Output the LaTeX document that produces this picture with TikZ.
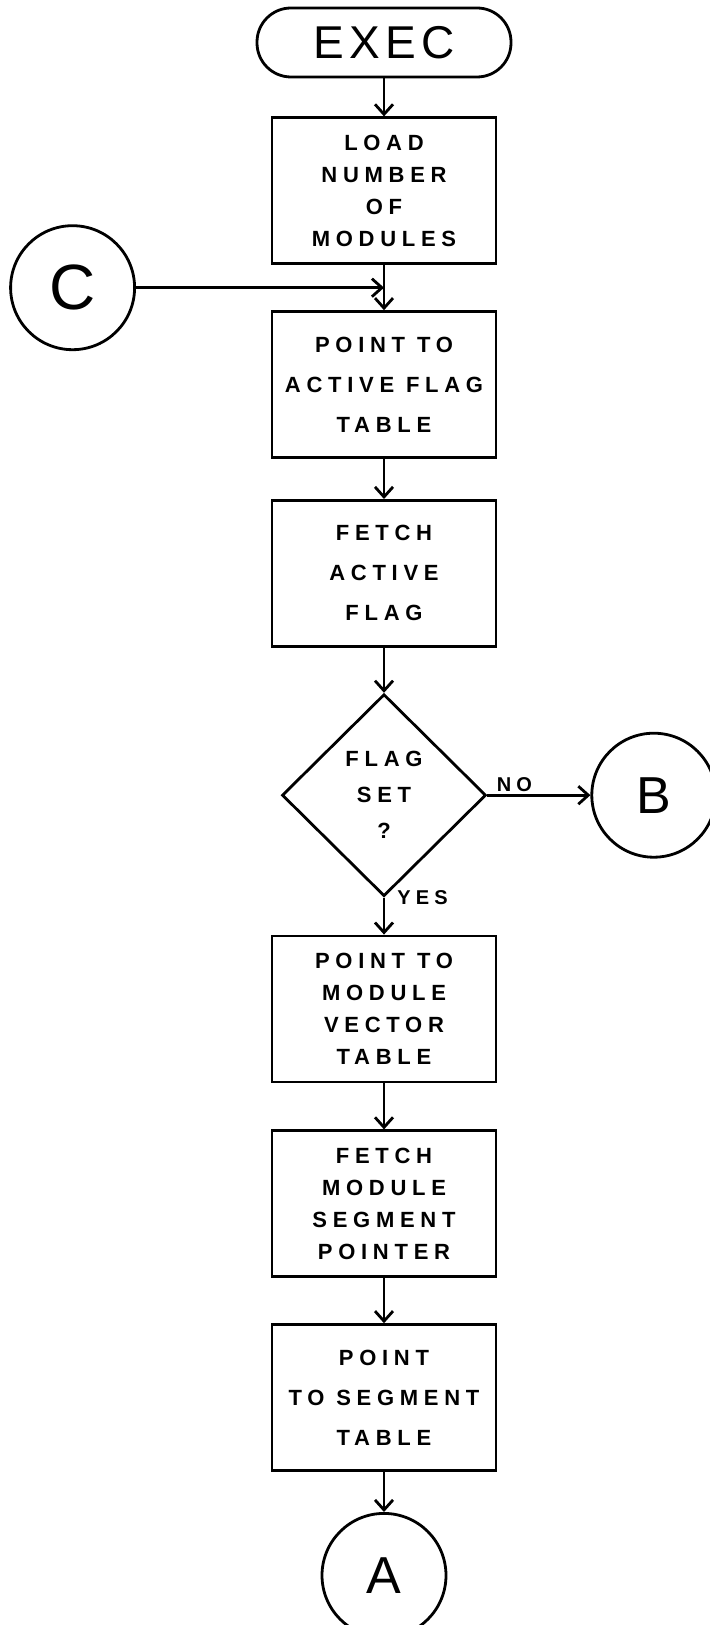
\documentclass[tikz,border=0pt]{standalone}
\usepackage{fontspec}
\setmainfont{Liberation Sans}
\newfontfamily\handfont{Liberation Sans}[LetterSpace=26]
\newfontfamily\execfont{Liberation Sans}[LetterSpace=12]
\newfontfamily\letterfont{Liberation Sans}
\usetikzlibrary{positioning,shapes.geometric,arrows.meta,calc}

\begin{document}
\begin{tikzpicture}[
        line width=1.4pt,
        every node/.style={
            draw,
            align=center,
            inner sep=2pt,
            font=\handfont\bfseries\fontsize{11}{16}\selectfont
        },
        terminal/.style={
            rounded corners=17pt,
            minimum width=127pt,
            minimum height=34.5pt,
            font=\execfont\fontsize{23}{26}\selectfont
        },
        stepbox/.style={
            rectangle,
            minimum width=112pt,
            minimum height=73pt
        },
        spread/.style={font=\handfont\bfseries\fontsize{11}{20}\selectfont},
        decision/.style={
            diamond,
            aspect=1,
            inner sep=0pt,
            minimum width=102pt,
            minimum height=101pt,
            font=\handfont\bfseries\fontsize{11}{18}\selectfont
        },
        connector/.style={
            circle,
            inner sep=0pt,
            minimum size=62pt,
            font=\letterfont\fontsize{26}{26}\selectfont
        },
        flow/.style={-{Straight Barb[length=5pt,width=9pt]}},
        tag/.style={
            draw=none,
            inner sep=1pt,
            font=\handfont\bfseries\fontsize{10}{10}\selectfont
        }
    ]
    \useasboundingbox (0,0) rectangle (354.5pt,-812.5pt);
    \node[terminal] (exec) at (192pt,-21.25pt) {EXEC};
    \node[stepbox, below=19pt of exec] (load) {LOAD\\NUMBER\\OF\\MODULES};
    \node[stepbox, spread, below=22.5pt of load] (flagtab) {POINT TO\\ACTIVE FLAG\\TABLE};
    \node[stepbox, spread, below=20pt of flagtab] (fetchflag) {FETCH\\ACTIVE\\FLAG};
    \node[decision, below=22.5pt of fetchflag] (flagset) {FLAG\\SET\\?};
    \node[stepbox, below=18.5pt of flagset] (vectab) {POINT TO\\MODULE\\VECTOR\\TABLE};
    \node[stepbox, below=23pt of vectab] (fetchseg) {FETCH\\MODULE\\SEGMENT\\POINTER};
    \node[stepbox, spread, below=22.5pt of fetchseg] (segtab) {POINT\\TO SEGMENT\\TABLE};
    \node[connector, below=20pt of segtab] (conA) {A};
    \node[connector, right=51.5pt of flagset] (conB) {B};
    \coordinate (join) at ($(load.south)!0.5!(flagtab.north)$);
    \node[connector, left=124pt of join, font=\letterfont\fontsize{32}{32}\selectfont] (conC) {C};

    \draw[flow] (exec) -- (load);
    \draw[flow] (load) -- (flagtab);
    \draw[flow] (conC) -- (join);
    \draw[flow] (flagtab) -- (fetchflag);
    \draw[flow] (fetchflag) -- (flagset);
    \draw[flow] (flagset) -- node[tag, at start, anchor=south west, xshift=3pt] {NO} (conB);
    \draw[flow] (flagset) -- node[tag, at start, anchor=west, xshift=5pt] {YES} (vectab);
    \draw[flow] (vectab) -- (fetchseg);
    \draw[flow] (fetchseg) -- (segtab);
    \draw[flow] (segtab) -- (conA);
\end{tikzpicture}
\end{document}
